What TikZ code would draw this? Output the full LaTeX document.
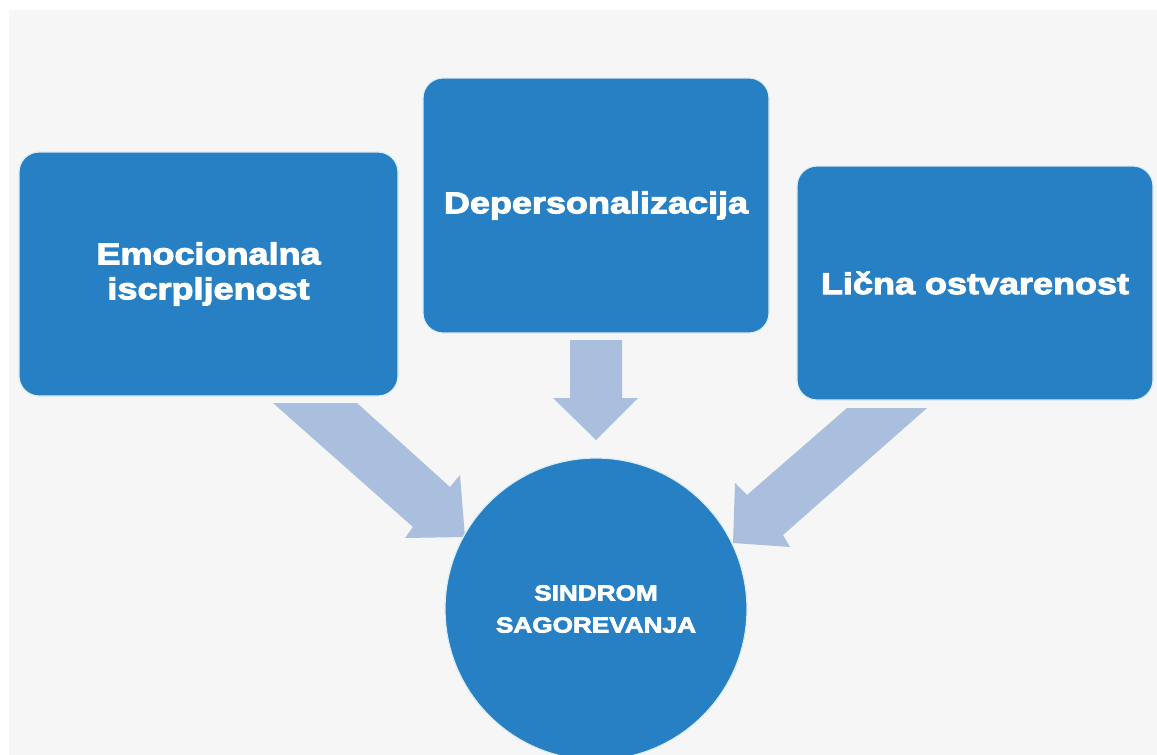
\documentclass[tikz,border=0pt]{standalone}
\usepackage{fontspec}
\newfontfamily\boxfont[FakeStretch=1.2,FakeBold=3.5]{Liberation Sans Bold}
\definecolor{bgray}{HTML}{F6F6F6}
\definecolor{boxblue}{HTML}{2680C3}
\definecolor{arrowblue}{HTML}{A9BFDD}
\tikzset{
  bluebox/.style={fill=boxblue, draw=white!85!boxblue, line width=1.2pt, rounded corners=20pt,
    text=white, align=center, inner sep=0pt,
    font=\boxfont\fontsize{30}{35}\selectfont},
  blockarrow/.style={fill=arrowblue, draw=none},
  hub/.style={circle, fill=boxblue, draw=white!85!boxblue, line width=1.2pt, text=white,
    align=center, inner sep=0pt, minimum size=302pt,
    font=\boxfont\fontsize{21.8}{32}\selectfont}
}
\begin{document}
\begin{tikzpicture}[x=1pt,y=-1pt]
\useasboundingbox (0,0) rectangle (1157,755);
\clip (0,0) rectangle (1157,755);
\fill[white] (0,0) rectangle (1157,755);
\fill[bgray] (9,10) rectangle (1157,755);

% block arrows
\fill[blockarrow] (570,340) -- (622,340) -- (622,398) -- (638,398) -- (596,440) -- (553,398) -- (570,398) -- cycle;
\fill[blockarrow] (273,403) -- (413,527) -- (405,538) -- (465,537) -- (460,475) -- (450,487) -- (357,403) -- cycle;
\fill[blockarrow] (847,408) -- (747,495) -- (735,483) -- (733,543) -- (790,547) -- (783,535) -- (927,408) -- cycle;

% boxes
\node[bluebox, minimum width=379pt, minimum height=244pt] (emo) at (208.5,274) {Emocionalna\\iscrpljenost};
\node[bluebox, minimum width=346pt, minimum height=255pt] (dep) at (596,205.5) {Depersonalizacija};
\node[bluebox, minimum width=356pt, minimum height=234pt] (lic) at (975,283) {Lična ostvarenost};

% hub
\node[hub] (sin) at (596,609) {SINDROM\\SAGOREVANJA};
\end{tikzpicture}
\end{document}
